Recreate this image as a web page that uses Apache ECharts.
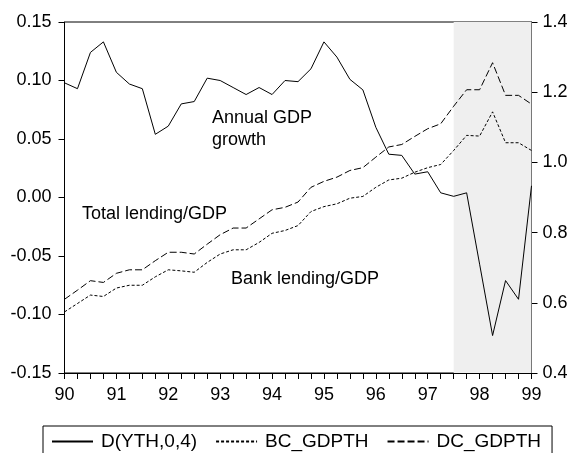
<!DOCTYPE html>
<html>
<head>
<meta charset="utf-8">
<script src="https://cdn.jsdelivr.net/npm/echarts@6/dist/echarts.min.js"></script>
<style>
html,body{margin:0;padding:0;background:#fff;}
#chart{width:574px;height:453px;}
</style>
</head>
<body>
<div id="chart"></div>
<script>
var quarters = ['1990Q1','1990Q2','1990Q3','1990Q4','1991Q1','1991Q2','1991Q3','1991Q4',
  '1992Q1','1992Q2','1992Q3','1992Q4','1993Q1','1993Q2','1993Q3','1993Q4',
  '1994Q1','1994Q2','1994Q3','1994Q4','1995Q1','1995Q2','1995Q3','1995Q4',
  '1996Q1','1996Q2','1996Q3','1996Q4','1997Q1','1997Q2','1997Q3','1997Q4',
  '1998Q1','1998Q2','1998Q3','1998Q4','1999Q1'];

var gdpGrowth = [0.098,0.093,0.124,0.133,0.107,0.097,0.093,0.054,0.061,0.080,0.082,0.102,
  0.100,0.094,0.088,0.094,0.088,0.100,0.099,0.110,0.133,0.120,0.101,0.092,
  0.060,0.037,0.036,0.020,0.022,0.004,0.001,0.004,-0.057,-0.118,-0.071,-0.087,0.010];

var bankLending = [0.574,0.598,0.622,0.618,0.642,0.650,0.650,0.674,0.694,0.691,0.687,0.715,
  0.739,0.751,0.751,0.772,0.798,0.806,0.820,0.860,0.874,0.882,0.898,0.903,
  0.929,0.950,0.955,0.972,0.985,0.994,1.034,1.077,1.075,1.144,1.056,1.056,1.034];

var totalLending = [0.610,0.636,0.663,0.658,0.684,0.694,0.694,0.720,0.744,0.744,0.739,0.767,
  0.794,0.813,0.813,0.839,0.865,0.872,0.887,0.929,0.946,0.958,0.977,0.985,
  1.015,1.044,1.051,1.074,1.096,1.110,1.160,1.207,1.207,1.284,1.191,1.191,1.166];

var seriesNames = ['D(YTH,0,4)', 'BC_GDPTH', 'DC_GDPTH'];
var shadeRange = ['1997Q3', '1999Q1'];
var annotations = [
  {text: 'Annual GDP\ngrowth', x: 212, y: 107},
  {text: 'Total lending/GDP', x: 82, y: 203},
  {text: 'Bank lending/GDP', x: 231, y: 268}
];

var FONT = 'Liberation Sans, Arial, sans-serif';
var FS = 18;

var chart = echarts.init(document.getElementById('chart'), null, {renderer: 'canvas'});

var option = {
  animation: false,
  backgroundColor: '#fff',
  grid: {left: 64.5, right: 42.5, top: 22, bottom: 80, show: true, borderColor: '#000', borderWidth: 1},
  legend: {
    left: 43, top: 426,
    padding: [6, 11, 30, 8],
    borderColor: '#000', borderWidth: 1,
    itemWidth: 41, itemHeight: 14, itemGap: 18,
    itemStyle: {color: 'transparent', borderColor: 'transparent', borderWidth: 0},
    textStyle: {fontFamily: FONT, fontSize: 19, color: '#000', padding: [0, 0, 0, 3]},
    data: seriesNames
  },
  xAxis: {
    type: 'category',
    data: quarters,
    boundaryGap: false,
    axisLine: {onZero: false, lineStyle: {color: '#000', width: 1}},
    axisTick: {interval: 0, length: 6, lineStyle: {color: '#000'}},
    axisLabel: {
      interval: 3, margin: 13,
      fontFamily: FONT, fontSize: FS, color: '#000',
      formatter: function (v) { return v.slice(4) === 'Q1' ? v.slice(2, 4) : ''; }
    },
    splitLine: {show: false}
  },
  yAxis: [
    {
      type: 'value', min: -0.15, max: 0.15, interval: 0.05, position: 'left',
      axisLine: {show: true, onZero: false, lineStyle: {color: '#000'}},
      axisTick: {show: true, length: 6, lineStyle: {color: '#000'}},
      axisLabel: {margin: 13, fontFamily: FONT, fontSize: FS, color: '#000',
        formatter: function (v) { return v.toFixed(2); }},
      splitLine: {show: false}
    },
    {
      type: 'value', min: 0.4, max: 1.4, interval: 0.2, position: 'right',
      axisLine: {show: true, onZero: false, lineStyle: {color: '#000'}},
      axisTick: {show: true, length: 6, lineStyle: {color: '#000'}},
      axisLabel: {margin: 11, fontFamily: FONT, fontSize: FS, color: '#000',
        formatter: function (v) { return v.toFixed(1); }},
      splitLine: {show: false}
    }
  ],
  series: [
    {
      name: seriesNames[0], type: 'line', yAxisIndex: 0, data: gdpGrowth,
      symbol: 'none', color: '#000',
      lineStyle: {color: '#000', width: 1, type: 'solid'},
      markArea: {
        silent: true,
        itemStyle: {color: '#efefef'},
        data: [[{xAxis: shadeRange[0]}, {xAxis: shadeRange[1]}]]
      },
      z: 3
    },
    {
      name: seriesNames[1], type: 'line', yAxisIndex: 1, data: bankLending,
      symbol: 'none', color: '#000',
      lineStyle: {color: '#000', width: 1, type: [3, 2]},
      z: 3
    },
    {
      name: seriesNames[2], type: 'line', yAxisIndex: 1, data: totalLending,
      symbol: 'none', color: '#000',
      lineStyle: {color: '#000', width: 1, type: [7, 3]},
      z: 3
    }
  ],
  graphic: annotations.map(function (a) {
    return {
      type: 'text', left: a.x, top: a.y, z: 10,
      style: {text: a.text, fontFamily: FONT, fontSize: FS, fill: '#000', lineHeight: 22}
    };
  })
};

chart.setOption(option);
</script>
</body>
</html>
